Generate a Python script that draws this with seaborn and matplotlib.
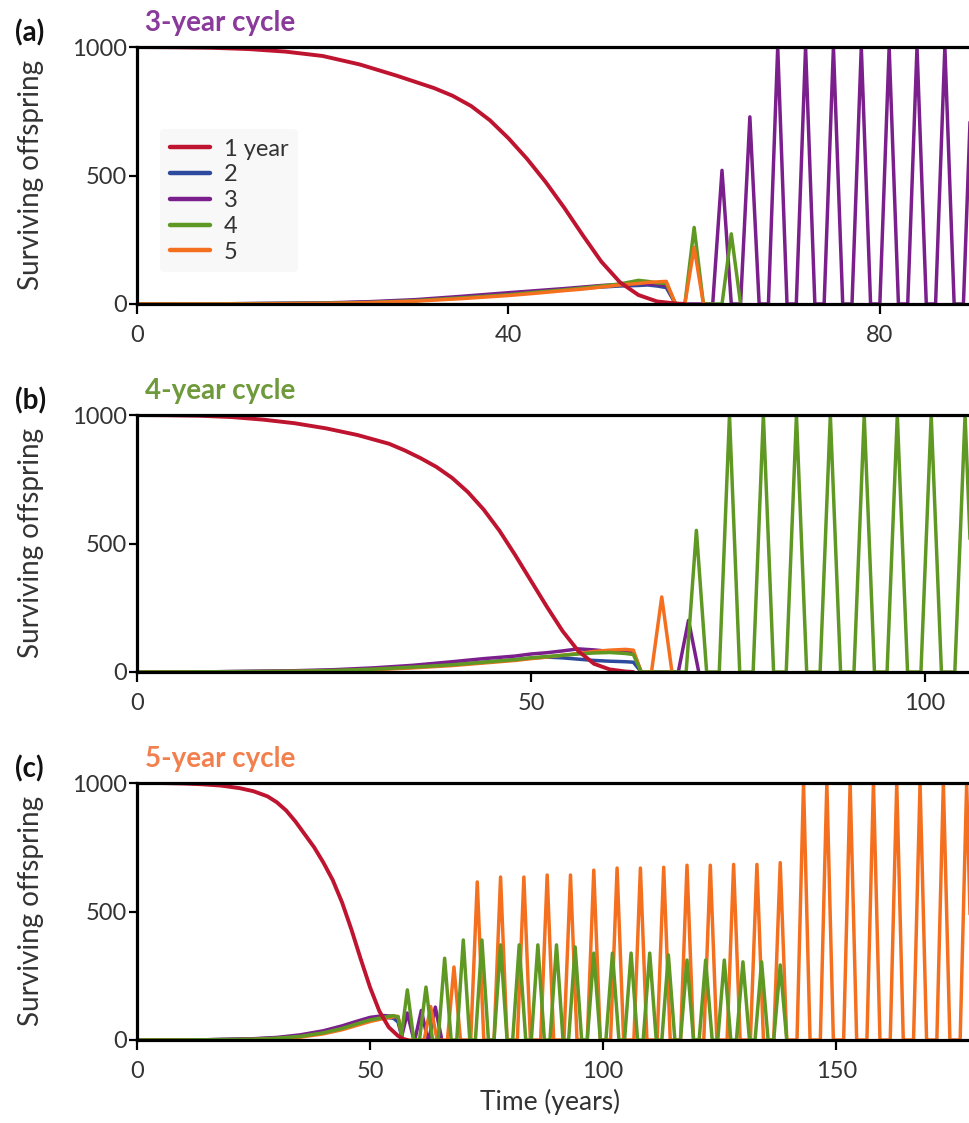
import numpy as np
import pandas as pd
import matplotlib.pyplot as plt
from matplotlib.lines import Line2D
import seaborn as sns

sns.set_theme(style="ticks", rc={"axes.edgecolor": "black", "xtick.color": "black",
                                 "ytick.color": "black", "text.color": "#222222"})
plt.rcParams['font.family'] = ['Lato', 'DejaVu Sans']

LABELS = ['1 year', '2', '3', '4', '5']
COLORS = ['#BE1430', '#2E4A9E', '#7A1F8C', '#5F9822', '#F4701F']
TITLE_COLORS = ['#8A3A9A', '#6F9A3C', '#F2804E']

# ---- panel (a): 3-year cycle ----
A_RED_X = [0, 4, 8, 12, 16, 20, 24, 28, 32, 34, 36, 38, 40, 42, 44, 46, 48, 50, 52, 54, 56, 58, 59]
A_RED_Y = [1000, 999, 997, 992, 982, 965, 932, 888, 840, 810, 770, 715, 645, 565, 475, 375, 268,
           165, 85, 35, 10, 2, 0]
A_EARLY_X = [0, 10, 20, 25, 30, 35, 40, 43, 46, 48, 50, 52, 54, 55, 56, 57, 58]
A_BLUE_Y = [0, 1, 3, 7, 14, 25, 38, 48, 57, 62, 66, 70, 72, 74, 70, 64, 0]
A_PURPLE_Y = [0, 1, 4, 9, 17, 30, 44, 52, 60, 66, 72, 76, 80, 78, 76, 72, 0]
A_GREEN_Y = [0, 1, 3, 6, 13, 24, 36, 46, 55, 62, 70, 78, 92, 88, 82, 80, 0]
A_ORANGE_Y = [0, 0, 2, 5, 11, 21, 33, 42, 52, 58, 66, 74, 80, 84, 86, 88, 0]
A_PURPLE_PEAK_X = [63, 66, 69, 72, 75, 78, 81, 84, 87, 90]
A_PURPLE_PEAK_Y = [520, 728, 1000, 1000, 1000, 1000, 1000, 1000, 1000, 1000]
A_GREEN_PEAK_X = [60, 64]
A_GREEN_PEAK_Y = [298, 273]
A_ORANGE_PEAK_X = [60]
A_ORANGE_PEAK_Y = [220]

# ---- panel (b): 4-year cycle ----
B_RED_X = [0, 4, 8, 12, 16, 20, 24, 28, 32, 34, 36, 38, 40, 42, 44, 46, 48, 50, 52, 54, 56, 58, 60, 62, 63]
B_RED_Y = [1000, 999, 997, 992, 982, 968, 948, 922, 888, 862, 832, 798, 755, 700, 632, 550, 455,
           355, 255, 160, 82, 32, 10, 2, 0]
B_EARLY_X = [0, 10, 20, 25, 30, 35, 40, 44, 48, 50, 52, 54, 56, 58, 60, 62, 63, 64]
B_BLUE_Y = [0, 1, 3, 6, 11, 18, 28, 38, 48, 54, 58, 55, 50, 45, 42, 40, 38, 0]
B_PURPLE_Y = [0, 1, 5, 9, 16, 26, 40, 52, 62, 70, 75, 82, 90, 86, 80, 78, 75, 0]
B_GREEN_Y = [0, 1, 3, 6, 11, 19, 28, 38, 48, 55, 60, 65, 70, 74, 76, 72, 68, 0]
B_ORANGE_Y = [0, 0, 2, 4, 9, 16, 25, 35, 45, 52, 58, 65, 72, 80, 85, 88, 85, 0]
B_PURPLE_PEAK_X = [70.0]
B_PURPLE_PEAK_Y = [201]
B_GREEN_PEAK_X = [71.0, 75.2, 79.5, 83.7, 88.0, 92.3, 96.5, 100.8, 105.1]
B_GREEN_PEAK_Y = [551, 1000, 1000, 1000, 1000, 1000, 1000, 1000, 1000]
B_ORANGE_PEAK_X = [66.6]
B_ORANGE_PEAK_Y = [292]

# ---- panel (c): 5-year cycle ----
C_RED_X = [0, 5, 10, 14, 18, 22, 25, 28, 30, 32, 34, 36, 38, 40, 42, 44, 46, 48, 50, 52, 54, 56, 57, 58]
C_RED_Y = [1000, 1000, 998, 995, 990, 980, 968, 948, 925, 893, 850, 800, 750, 690, 622, 535, 430,
           315, 205, 112, 50, 16, 5, 0]
C_EARLY_X = [0, 15, 25, 30, 35, 40, 44, 47, 50, 53, 55, 56, 57]
C_BLUE_Y = [0, 1, 4, 8, 16, 30, 48, 65, 80, 88, 85, 70, 0]
C_PURPLE_Y = [0, 1, 5, 10, 20, 36, 55, 72, 88, 95, 92, 88, 0]
C_GREEN_Y = [0, 1, 3, 7, 14, 28, 45, 62, 78, 88, 95, 90, 0]
C_ORANGE_Y = [0, 0, 2, 5, 11, 24, 40, 56, 72, 84, 90, 92, 0]
C_PURPLE_PEAK_X = [58, 61, 64]
C_PURPLE_PEAK_Y = [105, 115, 128]
C_GREEN_PEAK_X = [58, 62, 66, 70, 74, 78, 82, 86, 90, 94, 98, 102, 106, 110, 114, 118, 122, 126, 130, 134, 138]
C_GREEN_PEAK_Y = [195, 206, 318, 389, 389, 370, 370, 370, 370, 362, 338, 338, 338, 338, 331, 311, 311, 311,
                  304, 304, 292]
C_ORANGE_PEAK_X = [63, 68, 73, 78, 83, 88, 93, 98, 103, 108, 113, 118, 123, 128, 133, 138,
                   143, 148, 153, 158, 163, 168, 173, 178]
C_ORANGE_PEAK_Y = [130, 284, 615, 634, 634, 642, 642, 661, 669, 669, 672, 680, 680, 683, 683, 690,
                   1000, 1000, 1000, 1000, 1000, 1000, 1000, 1000]


def series_path(base_x, base_y, peak_x=(), peak_y=(), half_width=1.0):
    """base curve followed by triangular spikes (zero on both sides of each peak)"""
    xs, ys = list(base_x), list(base_y)
    for p, h in zip(peak_x, peak_y):
        xs += [p - half_width, p, p + half_width]
        ys += [0, h, 0]
    return pd.DataFrame({'t': xs, 'n': ys})


def draw_panel(ax, red, early_x, early, peaks, order, half_width):
    for idx in order:
        px, py = peaks.get(idx, ((), ()))
        df = series_path(early_x, early[idx], px, py, half_width)
        sns.lineplot(data=df, x='t', y='n', ax=ax, color=COLORS[idx], lw=2.5,
                     sort=False, estimator=None)
    df = series_path(red[0], red[1])
    sns.lineplot(data=df, x='t', y='n', ax=ax, color=COLORS[0], lw=2.8,
                 sort=False, estimator=None)


fig = plt.figure(figsize=(9.69, 11.23), dpi=100)
W, H = 969.0, 1123.0
left = 137 / W
width = 1.0 - left
panels = [
    dict(top=47, xmax=89.6, ticks=[0, 40, 80], label='(a)', title='3-year cycle',
         red=(A_RED_X, A_RED_Y), early_x=A_EARLY_X,
         early={1: A_BLUE_Y, 2: A_PURPLE_Y, 3: A_GREEN_Y, 4: A_ORANGE_Y},
         peaks={2: (A_PURPLE_PEAK_X, A_PURPLE_PEAK_Y), 3: (A_GREEN_PEAK_X, A_GREEN_PEAK_Y),
                4: (A_ORANGE_PEAK_X, A_ORANGE_PEAK_Y)},
         order=[1, 2, 3, 4], hw=1.0),
    dict(top=415, xmax=105.6, ticks=[0, 50, 100], label='(b)', title='4-year cycle',
         red=(B_RED_X, B_RED_Y), early_x=B_EARLY_X,
         early={1: B_BLUE_Y, 2: B_PURPLE_Y, 3: B_GREEN_Y, 4: B_ORANGE_Y},
         peaks={2: (B_PURPLE_PEAK_X, B_PURPLE_PEAK_Y), 3: (B_GREEN_PEAK_X, B_GREEN_PEAK_Y),
                4: (B_ORANGE_PEAK_X, B_ORANGE_PEAK_Y)},
         order=[1, 2, 4, 3], hw=1.3),
    dict(top=783, xmax=178.5, ticks=[0, 50, 100, 150], label='(c)', title='5-year cycle',
         red=(C_RED_X, C_RED_Y), early_x=C_EARLY_X,
         early={1: C_BLUE_Y, 2: C_PURPLE_Y, 3: C_GREEN_Y, 4: C_ORANGE_Y},
         peaks={2: (C_PURPLE_PEAK_X, C_PURPLE_PEAK_Y), 3: (C_GREEN_PEAK_X, C_GREEN_PEAK_Y),
                4: (C_ORANGE_PEAK_X, C_ORANGE_PEAK_Y)},
         order=[1, 2, 4, 3], hw=1.4),
]

axes = []
for i, p in enumerate(panels):
    ax_h = 257
    ax = fig.add_axes([left, 1 - (p['top'] + ax_h) / H, width, ax_h / H])
    draw_panel(ax, p['red'], p['early_x'], p['early'], p['peaks'], p['order'], p['hw'])
    ax.set_xlim(0, p['xmax'])
    ax.set_ylim(0, 1000)
    ax.set_xticks(p['ticks'])
    ax.set_yticks([0, 500, 1000])
    ax.set_xlabel('')
    ax.set_ylabel('')
    for side in ['top', 'left', 'bottom']:
        ax.spines[side].set_linewidth(2.3)
        ax.spines[side].set_color('black')
    ax.spines['right'].set_visible(False)
    ax.tick_params(axis='x', direction='out', length=7, width=1.6, labelsize=17, pad=8,
                   labelcolor='#333333')
    ax.tick_params(axis='y', direction='out', length=6, width=1.6, labelsize=17, pad=1,
                   labelcolor='#333333')
    ax.patch.set_alpha(0)

    ycen = 1 - (p['top'] + ax_h / 2) / H
    fig.text(31 / W, ycen, 'Surviving offspring', rotation=90, ha='center', va='center',
             fontsize=20, color='#333333')
    fig.text(15 / W, 1 - (p['top'] - 14) / H, p['label'], ha='left', va='center',
             fontsize=20, fontweight='bold', color='#111111')
    fig.text(145 / W, 1 - (p['top'] - 24) / H, p['title'], ha='left', va='center',
             fontsize=20, fontweight='bold', color=TITLE_COLORS[i])
    axes.append(ax)

# legend in panel (a)
handles = [Line2D([0], [0], color=c, lw=3.2) for c in COLORS]
leg = axes[0].legend(handles, LABELS, loc='upper left', bbox_to_anchor=(0.028, 0.68),
                     frameon=True, fontsize=17, handlelength=1.7, handletextpad=0.6,
                     labelspacing=0.2, borderpad=0.4, borderaxespad=0)
leg.get_frame().set_facecolor('#f7f7f7')
leg.get_frame().set_edgecolor('none')
for t in leg.get_texts():
    t.set_color('#333333')

fig.text(550 / W, 1 - 1102 / H, 'Time (years)', ha='center', va='center', fontsize=19,
         color='#333333')

fig.savefig('out.png', dpi=100)
